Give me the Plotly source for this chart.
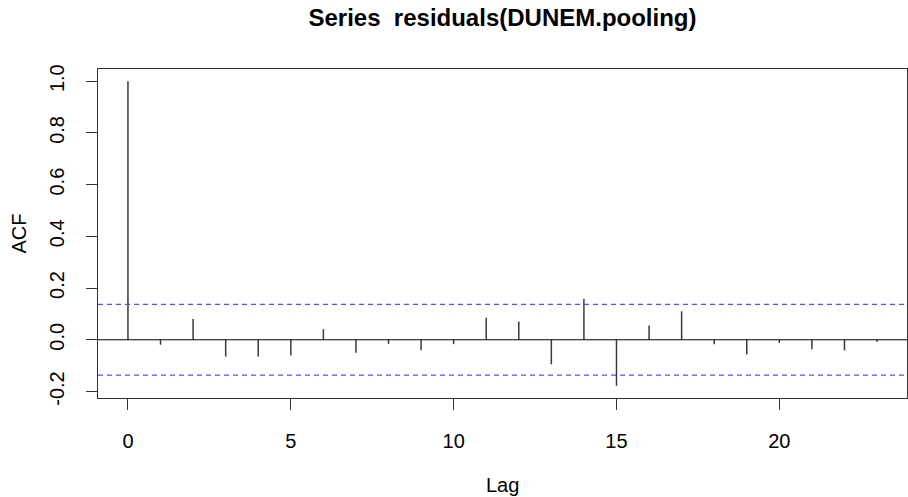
import plotly.graph_objects as go

# Autocorrelation of the pooled-model residuals, lags 0..23
lags = list(range(24))
acf = [1.000, -0.019, 0.080, -0.065, -0.065, -0.061, 0.041, -0.050,
       -0.016, -0.040, -0.017, 0.085, 0.071, -0.095, 0.159, -0.178,
       0.055, 0.110, -0.017, -0.057, -0.012, -0.037, -0.041, -0.008]
conf_band = 0.137  # approximate 95% white-noise bound

x_ticks = [0, 5, 10, 15, 20]
y_ticks = [-0.2, 0.0, 0.2, 0.4, 0.6, 0.8, 1.0]
y_labels = ["-0.2", "0.0", "0.2", "0.4", "0.6", "0.8", "1.0"]

FONT = "Liberation Sans, Arial, sans-serif"

# vertical spikes from 0 to each autocorrelation
xs, ys = [], []
for lag, v in zip(lags, acf):
    xs += [lag, lag, None]
    ys += [0, v, None]

fig = go.Figure()
fig.add_trace(go.Scatter(x=xs, y=ys, mode="lines",
                         line=dict(color="#3a3a3a", width=1.5),
                         hoverinfo="skip", showlegend=False))

ymin = min(min(acf), -conf_band)
ymax = max(max(acf), conf_band)
ypad = 0.04 * (ymax - ymin)
xpad = 0.04 * (lags[-1] - lags[0])

shapes = [
    dict(type="line", xref="paper", x0=0, x1=1, yref="y", y0=0, y1=0,
         line=dict(color="black", width=1)),
]
for b in (conf_band, -conf_band):
    shapes.append(dict(type="line", xref="paper", x0=0, x1=1, yref="y", y0=b, y1=b,
                       line=dict(color="#5050ff", width=1.3, dash="5px,4px")))

fig.update_layout(
    width=908, height=497,
    margin=dict(l=98, r=1, t=69, b=99),
    paper_bgcolor="white", plot_bgcolor="white",
    font=dict(family=FONT, size=20, color="black"),
    title=dict(text="<b>Series  residuals(DUNEM.pooling)</b>",
               x=0.5, xref="paper", xanchor="center",
               y=1 - 18 / 497, yref="container", yanchor="middle",
               font=dict(size=24, color="black", family=FONT)),
    shapes=shapes,
    showlegend=False,
    annotations=[
        dict(text="Lag", xref="paper", yref="paper", x=0.5, y=0,
             xanchor="center", yanchor="middle", yshift=-87, showarrow=False,
             font=dict(size=20, family=FONT, color="black")),
        dict(text="ACF", xref="paper", yref="paper", x=0, y=0.5,
             xanchor="center", yanchor="middle", xshift=-80, textangle=-90,
             showarrow=False, font=dict(size=20, family=FONT, color="black")),
    ],
)
fig.update_xaxes(range=[lags[0] - xpad, lags[-1] + xpad], tickvals=x_ticks,
                 ticks="outside", ticklen=11, tickwidth=1, tickcolor="#333333",
                 showline=True, linecolor="#333333", linewidth=1, mirror=True,
                 showgrid=False, zeroline=False, ticklabelstandoff=14,
                 automargin=False)
fig.update_yaxes(range=[ymin - ypad, ymax + ypad], tickvals=y_ticks, ticktext=y_labels,
                 tickangle=-90, ticks="outside", ticklen=11, tickwidth=1,
                 tickcolor="#333333", showline=True, linecolor="#333333",
                 linewidth=1, mirror=True, showgrid=False, zeroline=False,
                 ticklabelstandoff=14, automargin=False)

fig.write_html("out.html")
